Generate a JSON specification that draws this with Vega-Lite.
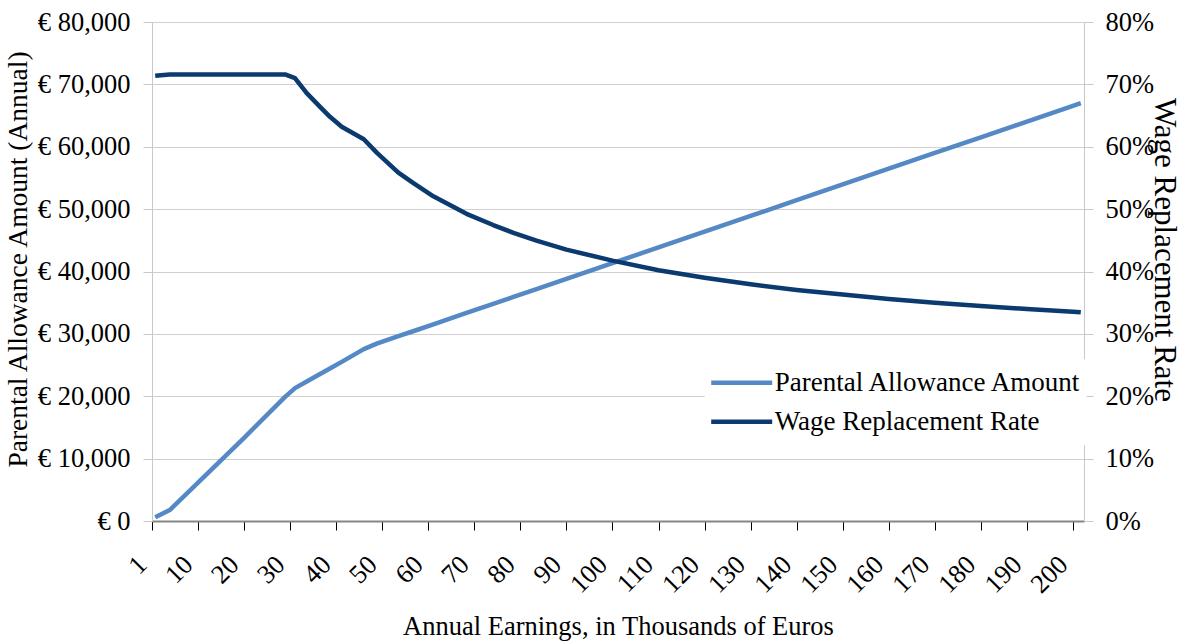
{
  "$schema": "https://vega.github.io/schema/vega-lite/v6.json",
  "width": 932,
  "height": 499,
  "autosize": {"type": "none"},
  "padding": {"left": 152, "top": 22, "right": 106, "bottom": 121},
  "background": "white",
  "config": {
    "view": {"stroke": null},
    "font": "Liberation Serif",
    "axis": {"labelFont": "Liberation Serif", "titleFont": "Liberation Serif", "labelColor": "black", "titleColor": "black", "titleFontWeight": "normal"}
  },
  "data": {
    "values": [
      {"earnings": 0.7, "allowance": 590, "rate": 71.4},
      {"earnings": 3.85, "allowance": 1760, "rate": 71.6},
      {"earnings": 10, "allowance": 6170, "rate": 71.6},
      {"earnings": 20, "allowance": 13340, "rate": 71.6},
      {"earnings": 28.9, "allowance": 19900, "rate": 71.6},
      {"earnings": 31.05, "allowance": 21300, "rate": 71.0},
      {"earnings": 33.6, "allowance": 22360, "rate": 68.6},
      {"earnings": 36.5, "allowance": 23560, "rate": 66.4},
      {"earnings": 38.65, "allowance": 24450, "rate": 64.8},
      {"earnings": 41.2, "allowance": 25510, "rate": 63.2},
      {"earnings": 46, "allowance": 27550, "rate": 61.2},
      {"earnings": 48.8, "allowance": 28430, "rate": 59.05},
      {"earnings": 53.5, "allowance": 29620, "rate": 55.85},
      {"earnings": 56.7, "allowance": 30420, "rate": 54.2},
      {"earnings": 61.1, "allowance": 31530, "rate": 52.05},
      {"earnings": 64.7, "allowance": 32440, "rate": 50.65},
      {"earnings": 68.3, "allowance": 33350, "rate": 49.25},
      {"earnings": 74.1, "allowance": 34810, "rate": 47.45},
      {"earnings": 78.5, "allowance": 35920, "rate": 46.2},
      {"earnings": 83.5, "allowance": 37180, "rate": 44.95},
      {"earnings": 90, "allowance": 38820, "rate": 43.5},
      {"earnings": 100, "allowance": 41340, "rate": 41.75},
      {"earnings": 110, "allowance": 43870, "rate": 40.2},
      {"earnings": 120, "allowance": 46390, "rate": 39.0},
      {"earnings": 130, "allowance": 48910, "rate": 37.95},
      {"earnings": 140, "allowance": 51430, "rate": 37.05},
      {"earnings": 150, "allowance": 53950, "rate": 36.3},
      {"earnings": 160, "allowance": 56480, "rate": 35.6},
      {"earnings": 170, "allowance": 59000, "rate": 35.0},
      {"earnings": 180, "allowance": 61520, "rate": 34.45},
      {"earnings": 190, "allowance": 64040, "rate": 34.0},
      {"earnings": 200, "allowance": 66560, "rate": 33.55},
      {"earnings": 201.7, "allowance": 66990, "rate": 33.46}
    ]
  },
  "encoding": {
    "x": {
      "field": "earnings",
      "type": "quantitative",
      "scale": {"domain": [0, 202.4], "nice": false, "zero": false},
      "axis": {
        "values": [0, 10, 20, 30, 40, 50, 60, 70, 80, 90, 100, 110, 120, 130, 140, 150, 160, 170, 180, 190, 200],
        "labelExpr": "datum.value == 0 ? '1' : datum.label",
        "labelAngle": -45,
        "labelAlign": "right",
        "labelBaseline": "top",
        "labelOffset": -19,
        "labelPadding": 21,
        "labelFontSize": 26.5,
        "labelOverlap": false,
        "labelFlush": false,
        "labelBound": false,
        "tickColor": "black",
        "tickSize": 9,
        "domainColor": "#868686",
        "domainWidth": 2,
        "grid": false,
        "title": "Annual Earnings, in Thousands of Euros",
        "titleFontSize": 26.5,
        "titleY": 113,
        "titleBaseline": "alphabetic"
      }
    }
  },
  "layer": [
    {
      "mark": {"type": "line", "strokeWidth": 4.5, "strokeJoin": "round"},
      "encoding": {
        "y": {
          "field": "allowance",
          "type": "quantitative",
          "scale": {"domain": [0, 80000], "nice": false},
          "axis": {
            "orient": "left",
            "values": [0, 10000, 20000, 30000, 40000, 50000, 60000, 70000, 80000],
            "labelExpr": "'€ ' + format(datum.value, ',')",
            "grid": true,
            "gridColor": "#d0d0d0",
            "domainColor": "#c8c8c8",
            "tickColor": "#c8c8c8",
            "tickSize": 9,
            "labelPadding": 13,
            "labelFontSize": 26.5,
            "title": "Parental Allowance Amount (Annual)",
            "titleFontSize": 27.5,
            "titleAngle": -90,
            "titleX": -134,
            "titleY": 237,
            "titleBaseline": "middle"
          }
        },
        "color": {
          "datum": "Parental Allowance Amount",
          "type": "nominal",
          "scale": {"domain": ["Parental Allowance Amount", "Wage Replacement Rate"], "range": ["#5589c6", "#0a3a6e"]},
          "legend": {
            "orient": "none",
            "legendX": 552.7,
            "legendY": 337.2,
            "title": null,
            "fillColor": "white",
            "padding": 4,
            "symbolType": "stroke",
            "symbolSize": 3721,
            "symbolStrokeWidth": 4.5,
            "clipHeight": 39,
            "rowPadding": 0,
            "labelFont": "Liberation Serif",
            "labelFontSize": 27,
            "labelColor": "black",
            "labelOffset": 0,
            "labelLimit": 0
          }
        }
      }
    },
    {
      "mark": {"type": "line", "strokeWidth": 4.5, "strokeJoin": "round"},
      "encoding": {
        "y": {
          "field": "rate",
          "type": "quantitative",
          "scale": {"domain": [0, 80], "nice": false},
          "axis": {
            "orient": "right",
            "values": [0, 10, 20, 30, 40, 50, 60, 70, 80],
            "labelExpr": "datum.value + '%'",
            "grid": false,
            "domainColor": "#c8c8c8",
            "tickColor": "#c8c8c8",
            "tickSize": 9,
            "labelPadding": 12,
            "labelFontSize": 26.5,
            "title": "Wage Replacement Rate",
            "titleFontSize": 31,
            "titleAngle": 90,
            "titleX": 79,
            "titleY": 227.5,
            "titleBaseline": "middle"
          }
        },
        "color": {"datum": "Wage Replacement Rate", "type": "nominal"}
      }
    }
  ],
  "resolve": {"scale": {"y": "independent"}}
}
